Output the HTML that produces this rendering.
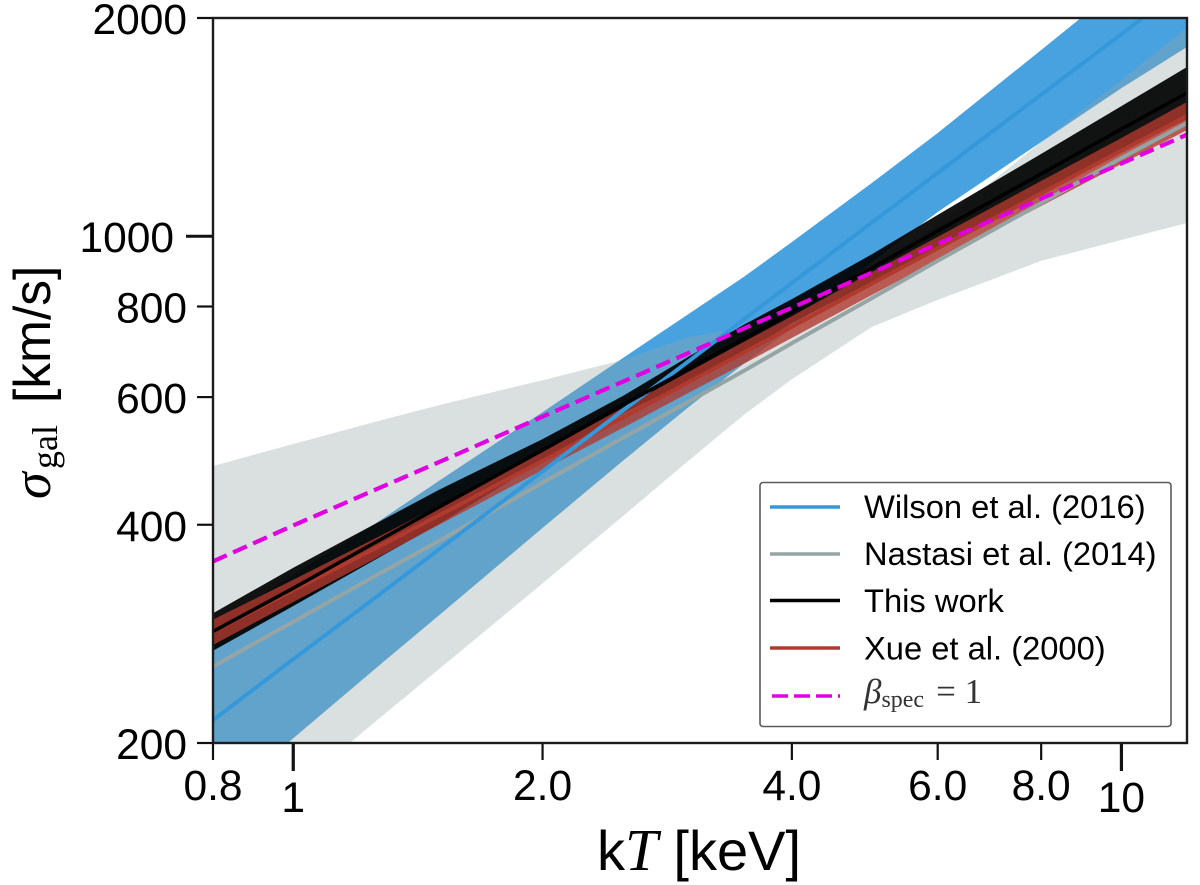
<!DOCTYPE html>
<html>
<head>
<meta charset="utf-8">
<style>
html,body{margin:0;padding:0;background:#fff;}
svg{display:block;}
text{font-family:"Liberation Sans",sans-serif;fill:#000;}
.serif{font-family:"Liberation Serif",serif;}
</style>
</head>
<body>
<svg id="chart" xmlns="http://www.w3.org/2000/svg" width="1200" height="885" viewBox="0 0 1200 885">
  <defs><clipPath id="plot-clip"><rect x="213" y="18" width="974" height="725"/></clipPath></defs>
  <g id="marks" clip-path="url(#plot-clip)"></g>
  <g id="ticks"></g>
  <rect x="213" y="18" width="974" height="725" fill="none" stroke="#1c1c1c" stroke-width="2.4"/>

  <text x="597" y="870" font-size="56">k<tspan class="serif" font-style="italic" font-size="59">T</tspan> [keV]</text>
  <g transform="translate(50,499) rotate(-90)">
    <text class="serif" font-style="italic" font-size="54" x="0" y="0">σ</text>
    <text class="serif" font-size="36" x="30" y="7">gal</text>
    <text font-size="51.500" x="96" y="0">[km/s]</text>
  </g>

  <g>
    <rect x="760" y="482.500" width="411" height="244" rx="3" fill="#fff" fill-opacity="0.97" stroke="#5a5a5a" stroke-width="1.600"/>
    <line x1="770" x2="840" y1="507" y2="507" stroke="#3498db" stroke-width="3.500"/>
    <text x="864" y="518" font-size="32.700">Wilson et al. (2016)</text>
    <line x1="770" x2="840" y1="554" y2="554" stroke="#95a5a6" stroke-width="3.500"/>
    <text x="864" y="565" font-size="32.700">Nastasi et al. (2014)</text>
    <line x1="770" x2="840" y1="600.500" y2="600.500" stroke="#000" stroke-width="3.500"/>
    <text x="864" y="612" font-size="32.700">This work</text>
    <line x1="770" x2="840" y1="648" y2="648" stroke="#b03a2e" stroke-width="3.500"/>
    <text x="864" y="659.500" font-size="32.700">Xue et al. (2000)</text>
    <line x1="772" x2="840" y1="696" y2="696" stroke="#e100e1" stroke-width="3.500" stroke-dasharray="16 6"/>
    <text class="serif" x="864" y="703" font-size="35" style="fill:#333"><tspan font-style="italic">β</tspan><tspan font-size="24" dy="4">spec</tspan><tspan dy="-4" dx="12">= 1</tspan></text>
  </g>
</svg>
<script>
// kT grid (keV)
const kT = [0.8,1,1.25,1.5,2,2.5,3,3.5,4,5,6,8,10,12];
// Wilson et al. (2016)
const wilsonMid = [215,261,316,370,474,575,672,768,862,1045,1223,1568,1900,2226];
const wilsonUp  = [291,341,400,460,572,679,781,879,982,1185,1388,1807,2220,2645];
const wilsonLow = [163,203,252,300,396,490,581,667,747,922,1080,1349,1601,1824];
// Nastasi et al. (2014)
const nastasiMid = [255,294,339,380,457,527,591,652,712,822,925,1111,1282,1433];
const nastasiUp  = [482,517,554,585,633,675,726,747,791,913,1036,1349,1642,1938];
const nastasiLow = [139,172,213,253,332,411,490,567,635,750,817,925,988,1043];
// This work
const workMid = [285,327,377,423,507,585,656,722,786,904,1017,1219,1406,1576];
const workUp  = [302,349,400,447,525,602,682,755,819,945,1070,1299,1512,1712];
const workLow = [268,309,357,401,490,569,631,688,759,865,966,1144,1307,1451];
// Xue et al. (2000)
const xueMid = [285,325,370,412,490,562,629,691,750,861,962,1146,1312,1465];
const xueUp  = [296,336,382,425,504,580,650,715,776,893,998,1192,1366,1532];
const xueLow = [273,313,358,400,476,544,608,667,724,830,927,1101,1258,1401];
// beta_spec = 1
const betaLine = [356,399,446,488,564,630,690,746,797,891,976,1127,1260,1381];
// Ticks
const yMajorTicks = [1000];
const yMinorTicks = [200,400,600,800,2000];
const xMajorTicks = [1,10];
const xMinorTicks = [0.8,2,4,6,8];
const xMinorLabels = ["0.8","2.0","4.0","6.0","8.0"];

const NS = "http://www.w3.org/2000/svg";
const xScale = k => 213 + 974 * Math.log10(k / 0.8) / Math.log10(12 / 0.8);
const yScale = s => 743 - 725 * Math.log10(s / 200);
const marks = document.getElementById("marks");
const ticks = document.getElementById("ticks");

function make(tag, attrs, parent) {
  const el = document.createElementNS(NS, tag);
  for (const key in attrs) el.setAttribute(key, attrs[key]);
  parent.appendChild(el);
  return el;
}
function linePath(vals) {
  return vals.map((v, i) => (i ? "L" : "M") + xScale(kT[i]).toFixed(1) + " " + yScale(v).toFixed(1)).join("");
}
function bandPath(up, low) {
  const rev = low.map((v, i) => "L" + xScale(kT[i]).toFixed(1) + " " + yScale(v).toFixed(1)).reverse().join("");
  return linePath(up) + rev + "Z";
}
function band(name, up, low, color, op) {
  const el = make("path", {d: bandPath(up, low), fill: color, "fill-opacity": op, stroke: "none"}, marks);
  
  
}
function curve(name, vals, color, width, dash) {
  const el = make("path", {d: linePath(vals), fill: "none", stroke: color, "stroke-width": width}, marks);
  if (dash) el.setAttribute("stroke-dasharray", dash);
  
  
}

band("wilson-band", wilsonUp, wilsonLow, "#3498db", 0.9);
band("nastasi-band", nastasiUp, nastasiLow, "#95a5a6", 0.35);
band("this-work-band", workUp, workLow, "#000", 0.92);
band("xue-band", xueUp, xueLow, "#b03a2e", 0.8);
curve("xue-line", xueMid, "#b03a2e", 4);
curve("nastasi-line", nastasiMid, "#95a5a6", 4);
curve("wilson-line", wilsonMid, "#3498db", 4);
curve("this-work-line", workMid, "#000", 3.5);
curve("beta-spec-line", betaLine, "#e100e1", 4.2, "15 7");

function tickLine(name, x1, y1, x2, y2, w) {
  const el = make("line", {x1: x1, y1: y1, x2: x2, y2: y2, stroke: "#111", "stroke-width": w}, ticks);
  
  
}
function tickText(name, x, y, anchor, str) {
  const el = make("text", {x: x, y: y, "text-anchor": anchor, "font-size": 42.5}, ticks);
  el.textContent = str;
  
  
}
yMajorTicks.forEach(v => {
  tickLine("y-major-tick", 186, yScale(v), 213, yScale(v), 3);
  tickText("y-tick-label", 174, yScale(v) + 16, "end", String(v));
});
yMinorTicks.forEach(v => {
  tickLine("y-minor-tick", 197, yScale(v), 213, yScale(v), 2.2);
  tickText("y-tick-label", 187, yScale(v) + 16, "end", String(v));
});
xMajorTicks.forEach(v => {
  tickLine("x-major-tick", xScale(v), 743, xScale(v), 771, 3.2);
  tickText("x-tick-label", xScale(v), 812, "middle", String(v));
});
xMinorTicks.forEach((v, i) => {
  tickLine("x-minor-tick", xScale(v), 743, xScale(v), 760, 2.2);
  tickText("x-tick-label", xScale(v), 800, "middle", xMinorLabels[i]);
});
</script>
</body>
</html>
